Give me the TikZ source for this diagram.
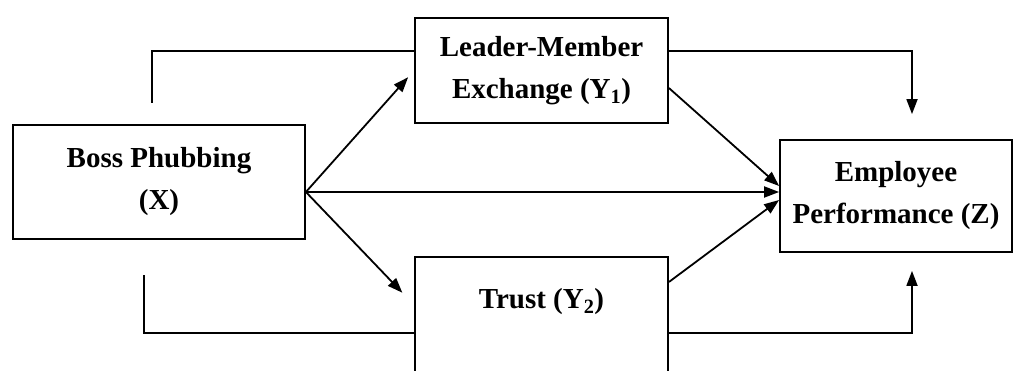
\documentclass[tikz,border=0pt]{standalone}
\usepackage{fontspec}
\setmainfont{Liberation Serif}
\usetikzlibrary{arrows.meta}
\begin{document}
\begin{tikzpicture}[x=1pt,y=-1pt,
  lbl/.style={font=\bfseries\fontsize{29}{42}\selectfont,align=center,inner sep=0pt},
  box/.style={lbl,draw,line width=1.8pt,rectangle},
  conn/.style={line width=1.8pt},
  arr/.style={conn,-{Triangle[length=15pt,width=11pt]}}]
\clip (0,0) rectangle (1019,371);
\node[box,minimum width=292pt,minimum height=114pt] (boss) at (159,182) {Boss Phubbing\\(X)};
\node[box,minimum width=253pt,minimum height=105pt] (lmx) at (541.5,70.5) {Leader-Member\\Exchange (Y\textsubscript{1})};
\node[box,minimum width=253pt,minimum height=200pt,anchor=north] (trust) at (541.5,256) {};
\node[lbl] (trusttext) at (541.5,302) {Trust (Y\textsubscript{2})};
\node[box,minimum width=232pt,minimum height=112pt] (emp) at (896,196) {Employee\\Performance (Z)};
\coordinate (tl) at (152,103);
\coordinate (bl) at (144,275);
\coordinate (bo) at (boss.east |- 0,192);
\draw[conn] (tl) |- (lmx.west |- 0,51);
\draw[conn] (bl) |- (trust.west |- 0,333);
\draw[arr,shorten >=9pt] (bo) -- (lmx.west);
\draw[arr,shorten >=17pt] (bo) -- (trust.west |- 0,305);
\draw[arr] (bo) -- (emp.west |- bo);
\draw[arr] (lmx.east |- 0,88) -- (emp.west |- 0,186);
\draw[arr] (trust.east |- 0,282) -- (emp.west |- 0,200);
\draw[arr,shorten >=25pt] (lmx.east |- 0,51) -| (emp.north -| 912,0);
\draw[arr,shorten >=18pt] (trust.east |- 0,333) -| (emp.south -| 912,0);
\end{tikzpicture}
\end{document}
